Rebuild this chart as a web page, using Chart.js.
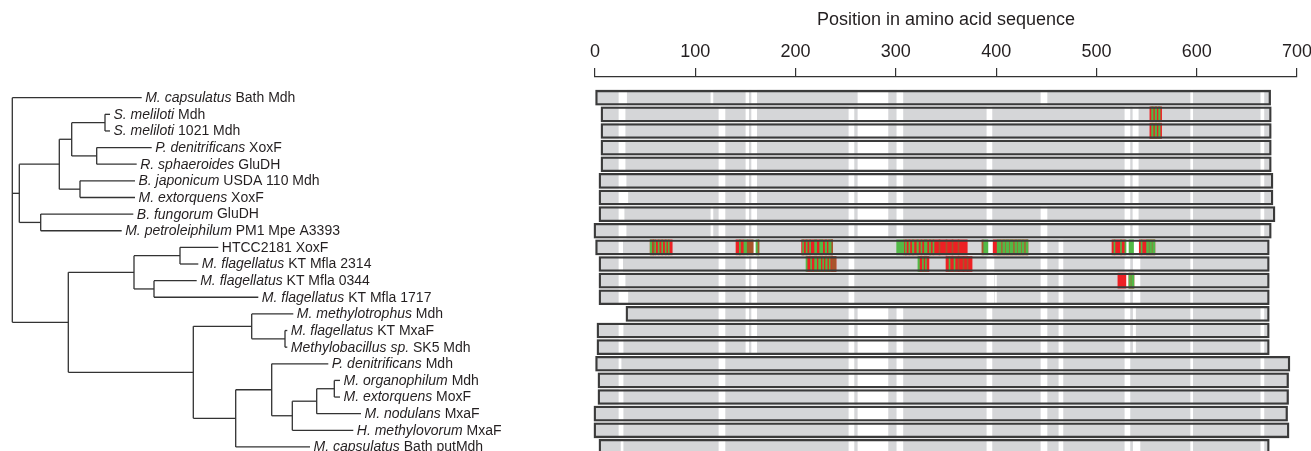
<!DOCTYPE html>
<html>
<head>
<meta charset="utf-8">
<script src="https://cdn.jsdelivr.net/npm/chart.js@4.4.1/dist/chart.umd.min.js"></script>
<style>
  html, body { margin: 0; padding: 0; background: #fff; overflow: hidden; width: 1311px; height: 451px; }
  #bars, #tree { position: absolute; left: 0; top: 0; }
</style>
</head>
<body>
<canvas id="bars" width="1330" height="460"></canvas>
<canvas id="tree" width="590" height="460"></canvas>
<script>
// leaf names (italic part + plain part), top to bottom
const leafItalic = [
  'M. capsulatus', 'S. meliloti', 'S. meliloti', 'P. denitrificans', 'R. sphaeroides',
  'B. japonicum', 'M. extorquens', 'B. fungorum', 'M. petroleiphilum', '',
  'M. flagellatus', 'M. flagellatus', 'M. flagellatus', 'M. methylotrophus', 'M. flagellatus',
  'Methylobacillus sp.', 'P. denitrificans', 'M. organophilum', 'M. extorquens', 'M. nodulans',
  'H. methylovorum', 'M. capsulatus'
];
const leafPlain = [
  ' Bath Mdh', ' Mdh', ' 1021 Mdh', ' XoxF', ' GluDH',
  ' USDA 110 Mdh', ' XoxF', ' GluDH', ' PM1 Mpe A3393', 'HTCC2181 XoxF',
  ' KT Mfla 2314', ' KT Mfla 0344', ' KT Mfla 1717', ' Mdh', ' KT MxaF',
  ' SK5 Mdh', ' Mdh', ' Mdh', ' MoxF', ' MxaF',
  ' MxaF', ' Bath putMdh'
];

// tree: depth of each tip and of each clade (kids: leaf index or 'c#')
const tipDepth = [141.7, 110, 110, 151.7, 136.7, 135, 135, 133.3, 121.7, 218.3,
  198.3, 196.7, 258.3, 293.3, 287.3, 287.3, 328.3, 340, 340, 361, 353.3, 310];
const cladeDepth = [12.3, 19.3, 59.3, 71.7, 105, 96.7, 80, 40.7, 68.3, 134,
  180, 154, 193.3, 251.7, 285, 235.7, 271.7, 292.3, 316.7, 334.3];
const cladeKids = [
  [0, 'c1', 'c8'], ['c2', 'c7'], ['c3', 'c6'], ['c4', 'c5'], [1, 2],
  [3, 4], [5, 6], [7, 8], ['c9', 'c12'], ['c10', 'c11'],
  [9, 10], [11, 12], ['c13', 'c15'], [13, 'c14'], [14, 15],
  ['c16', 21], [16, 'c17'], ['c18', 20], ['c19', 19], [17, 18]
];

// sequence extent of each protein (amino acid positions)
const protStart = [0, 6, 6, 6, 6, 4, 4, 4, -1, 0, 4, 4, 4, 30.9, 2, 2, 0, 3, 3, -1, -1, 4];
const protEnd = [673.7, 674.3, 674.3, 674.3, 674.3, 676, 676, 678, 674.3, 672.3,
  672.3, 672.3, 672.3, 672.3, 672.3, 672.3, 692.9, 691.6, 691.6, 690.6, 692, 672.3];

// alignment gaps: [start, end, firstRow, lastRow]
const gapCols = [
  [23.9, 31.5, 0, 0], [23.9, 30, 1, 4], [23.9, 31, 5, 5], [23.9, 32.7, 6, 6],
  [23.9, 29, 7, 7], [23.9, 31, 8, 8], [23.9, 27.6, 9, 10], [23.9, 30, 11, 11],
  [23.9, 32.7, 12, 12], [23.9, 28, 14, 15], [23.9, 26, 16, 16], [23.9, 28, 17, 20],
  [26, 28, 21, 21],
  [115.6, 117.6, 0, 0], [115.6, 117.6, 7, 8], [123.6, 129.6, 1, 21],
  [150.5, 153.2, 0, 8], [156.2, 161.2, 0, 8], [150.5, 153.2, 10, 15], [156.2, 161.2, 10, 15],
  [157.8, 160.5, 9, 9],
  [253.2, 258.2, 1, 21],
  [262.2, 292.1, 0, 8], [262.2, 292.1, 13, 21],
  [301, 307, 0, 8], [301, 307, 13, 21],
  [390.8, 395.8, 1, 8], [391.8, 397, 9, 9], [390.8, 397.8, 10, 12], [399, 400.3, 11, 12],
  [390.8, 395.8, 13, 21],
  [444.7, 450.7, 0, 0], [444.7, 450.7, 7, 21],
  [462.6, 466.6, 9, 21],
  [528.4, 533.4, 1, 8], [536.4, 541.7, 1, 8], [529.5, 532.5, 9, 9], [537, 542.7, 9, 9],
  [528.4, 533.4, 10, 12], [536.7, 543.4, 10, 12], [528.4, 533.4, 13, 15], [536.7, 539, 13, 15],
  [528.4, 533.4, 16, 20], [528.4, 533.4, 21, 21], [536.7, 543.4, 21, 21],
  [594, 596, 0, 21],
  [664, 667, 0, 8], [664, 667, 13, 21]
];

// variable residues: [row, start, end]
const redSegs = [
  [1, 553.3, 565], [2, 553.3, 565],
  [9, 55, 77], [9, 140.6, 148.5], [9, 206, 237], [9, 308, 371.2], [9, 397, 431.7],
  [9, 515.5, 528.4], [9, 542.7, 558.3],
  [10, 211.5, 240.3], [10, 323.5, 333], [10, 350, 376],
  [11, 521.4, 529.4], [11, 532.4, 537.4]
];
const greenSegs = [
  [1, 555, 556.5], [1, 558.5, 560], [1, 562, 563.5],
  [2, 555, 556.5], [2, 558.5, 560], [2, 562, 563.5],
  [9, 55, 56.5], [9, 59.5, 60.5], [9, 63, 64], [9, 66.5, 67.5], [9, 70, 71], [9, 73, 74],
  [9, 144, 145], [9, 148.5, 151.8], [9, 160.5, 163.5],
  [9, 207, 208], [9, 210.5, 211.5], [9, 214, 215], [9, 219, 221], [9, 224, 227], [9, 229.5, 231], [9, 233, 236],
  [9, 300.8, 308], [9, 309.5, 310.5], [9, 313, 314], [9, 316.5, 318], [9, 321, 322.5], [9, 325, 326],
  [9, 328.5, 331], [9, 333.5, 334.5], [9, 337, 338],
  [9, 387, 391.8], [9, 401, 405], [9, 406.5, 409], [9, 410, 413], [9, 414, 417], [9, 418.5, 421],
  [9, 422, 425], [9, 426, 428], [9, 429.5, 431.7],
  [9, 517.5, 518.5], [9, 524, 525], [9, 528.4, 529.5], [9, 532.5, 537], [9, 544.5, 545.5],
  [9, 550, 552], [9, 553, 555], [9, 556, 558.3],
  [10, 210.4, 211.5], [10, 215, 216], [10, 219, 221], [10, 223, 225], [10, 227, 228], [10, 230, 231.5], [10, 233.5, 234.5],
  [10, 322, 323.5], [10, 326.5, 327.5], [10, 329.5, 330.5],
  [10, 353, 354], [10, 358, 359],
  [11, 532.4, 534], [11, 535, 537.4]
];
const brownSegs = [
  [9, 57.5, 58.5], [9, 151.8, 157.8], [9, 162.5, 163.5], [9, 236, 237], [9, 343, 344], [9, 350, 351],
  [9, 356, 357], [9, 362, 363], [9, 385.8, 387],
  [10, 236, 240.3], [10, 362, 363], [10, 367, 368], [10, 371, 372]
];

const rowTop = -1.245, rowBottom = 21.786;   // y range of bar plot (rows)
const treeTop = -5.875;                       // y range start of tree plot

const ink = '#231f20';
const font = 'Liberation Sans';

// ---------- bars ----------
const protData = protStart.map((s, i) => ({ x: [s, protEnd[i]], y: i }));
const gapData = [];
gapCols.forEach(g => {
  for (let r = g[2]; r <= g[3]; r++) gapData.push({ x: [g[0], g[1]], y: r });
});
const segData = list => list.map(s => ({ x: [s[1], s[2]], y: s[0] }));

const barCommon = { grouped: false, barThickness: 15, clip: false, borderWidth: 0 };

new Chart(document.getElementById('bars'), {
  type: 'bar',
  data: {
    datasets: [
      { ...barCommon, data: protData, backgroundColor: 'rgba(0,0,0,0)', borderColor: '#3a3a3a',
        borderWidth: 1.6, borderSkipped: false, order: 0 },
      { ...barCommon, data: segData(brownSegs), backgroundColor: '#a9552b', order: 1 },
      { ...barCommon, data: segData(greenSegs), backgroundColor: '#52b947', order: 2 },
      { ...barCommon, data: segData(redSegs), backgroundColor: '#ed2024', order: 3 },
      { ...barCommon, data: gapData, backgroundColor: '#ffffff', order: 4 },
      { ...barCommon, data: protData, backgroundColor: '#d5d6d8', order: 5 }
    ]
  },
  options: {
    indexAxis: 'y',
    responsive: false,
    animation: false,
    layout: { padding: { left: 595, right: 33, top: 0, bottom: 0 } },
    plugins: { legend: { display: false }, tooltip: { enabled: false } },
    scales: {
      x: {
        type: 'linear',
        position: 'top',
        min: 0,
        max: 700,
        afterFit: scale => { scale.height = 77; },
        ticks: { stepSize: 100, color: ink, font: { family: font, size: 18 }, padding: 5, maxRotation: 0 },
        grid: { display: true, drawOnChartArea: false, drawTicks: true, tickLength: 9, color: '#333', lineWidth: 1.2 },
        border: { display: true, color: '#333', width: 1.2 },
        title: { display: true, text: 'Position in amino acid sequence', color: ink,
          font: { family: font, size: 18 }, padding: { top: 9, bottom: 0 } }
      },
      y: {
        type: 'linear',
        display: false,
        reverse: true,
        offset: false,
        min: rowTop,
        max: rowBottom
      }
    }
  }
});

// ---------- tree ----------
const cladeY = [];
function yOf(k) {
  if (typeof k === 'number') return k;
  const c = +k.slice(1);
  if (cladeY[c] === undefined) {
    const kids = cladeKids[c];
    cladeY[c] = (yOf(kids[0]) + yOf(kids[kids.length - 1])) / 2;
  }
  return cladeY[c];
}
const depthOf = k => typeof k === 'number' ? tipDepth[k] : cladeDepth[+k.slice(1)];

const segments = [];
cladeKids.forEach((kids, c) => {
  const d = cladeDepth[c];
  segments.push([{ x: d, y: yOf(kids[0]) }, { x: d, y: yOf(kids[kids.length - 1]) }]);
  kids.forEach(k => segments.push([{ x: d, y: yOf(k) }, { x: depthOf(k), y: yOf(k) }]));
});

const tipLabels = {
  id: 'tipLabels',
  afterDatasetsDraw(chart) {
    const { ctx, scales: { x, y } } = chart;
    ctx.save();
    ctx.fillStyle = ink;
    ctx.textBaseline = 'middle';
    leafItalic.forEach((it, i) => {
      let px = x.getPixelForValue(tipDepth[i]) + 3.5;
      const py = y.getPixelForValue(i) + 0.5;
      if (it) {
        ctx.font = `italic 14px "${font}"`;
        ctx.fillText(it, px, py);
        px += ctx.measureText(it).width;
      }
      ctx.font = `14px "${font}"`;
      ctx.fillText(leafPlain[i], px, py);
    });
    ctx.restore();
  }
};

new Chart(document.getElementById('tree'), {
  type: 'scatter',
  data: {
    datasets: segments.map(s => ({
      data: s, showLine: true, borderColor: '#333', borderWidth: 1.3,
      pointRadius: 0, clip: false
    }))
  },
  options: {
    responsive: false,
    animation: false,
    layout: { padding: 0 },
    plugins: { legend: { display: false }, tooltip: { enabled: false } },
    scales: {
      x: { type: 'linear', display: false, min: 0, max: 590 },
      y: { type: 'linear', display: false, reverse: true, min: treeTop, max: treeTop + 460 / 16.63 }
    }
  },
  plugins: [tipLabels]
});
</script>
</body>
</html>
